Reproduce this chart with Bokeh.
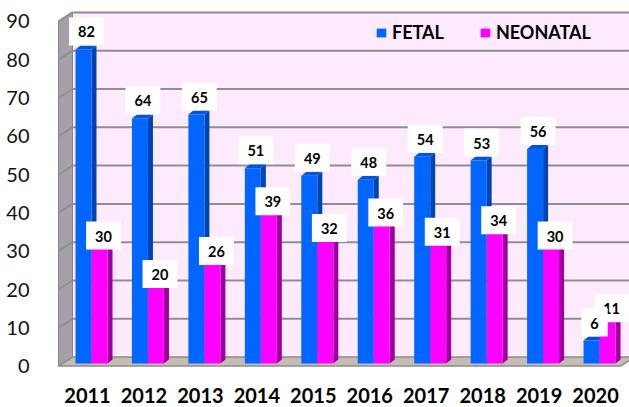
from bokeh.plotting import figure
from bokeh.models import Range1d, FixedTicker, Legend, LegendItem
from bokeh.core.properties import value
from bokeh.embed import file_html
from bokeh.resources import INLINE

# ---- data ----
years = [2011, 2012, 2013, 2014, 2015, 2016, 2017, 2018, 2019, 2020]
fetal = [82, 64, 65, 51, 49, 48, 54, 53, 56, 6]
neonatal = [30, 20, 26, 39, 32, 36, 31, 34, 30, 11]
series_names = ["FETAL", "NEONATAL"]
y_ticks = [0, 10, 20, 30, 40, 50, 60, 70, 80, 90]

# ---- style / geometry constants ----
PX_X = 56.45          # pixels per category
PX_Y = 3.83           # pixels per value unit
LEFT, TOP = 56, 2
FRAME_W, FRAME_H = 573, 368
X0 = 2011 + (LEFT - 87) / PX_X
Y1 = (365.6 - TOP) / PX_Y
Y0 = Y1 - FRAME_H / PX_Y
bar_dx, bar_dy = 4 / PX_X, 2.6 / PX_Y       # bar plane shift
back_dx, back_dy = 14 / PX_X, 9 / PX_Y      # back wall shift
dep_dx, dep_dy = 5 / PX_X, 4 / PX_Y         # bar depth
bw = 16 / PX_X
wall_x = years[0] + (58 - 87) / PX_X
floor_x1 = years[0] + (620 - 87) / PX_X
y_top = y_ticks[-1]

BLUE, BLUE_SIDE, BLUE_TOP = "#0066FF", "#0044B0", "#0055DD"
MAG, MAG_SIDE, MAG_TOP = "#FF00FF", "#9E009E", "#DD00DD"
WALL, SIDE_WALL, FLOOR, GRID = "#FDEBFD", "#A8A0A8", "#C6BCB2", "#8F8F8F"

p = figure(frame_width=FRAME_W, frame_height=FRAME_H,
           x_range=Range1d(X0, X0 + FRAME_W / PX_X),
           y_range=Range1d(Y0, Y1),
           output_backend="svg", toolbar_location=None,
           min_border_left=LEFT, min_border_right=0, min_border_top=TOP, min_border_bottom=0)
p.outline_line_color = None
p.xgrid.visible = False
p.ygrid.visible = False

# back wall
p.quad(left=wall_x + back_dx, right=X0 + 20, bottom=back_dy, top=y_top + back_dy,
       fill_color=WALL, line_color=None)
# left side wall
p.patch([wall_x, wall_x, wall_x + back_dx, wall_x + back_dx],
        [0, y_top, y_top + back_dy, back_dy], fill_color=SIDE_WALL,
        line_color="#8A848A", line_width=1)
# gridlines
gt = y_ticks[1:]
p.segment(x0=[wall_x + back_dx] * len(gt), y0=[t + back_dy for t in gt],
          x1=[X0 + 20] * len(gt), y1=[t + back_dy for t in gt],
          line_color=GRID, line_width=2)
p.segment(x0=[wall_x] * len(gt), y0=gt,
          x1=[wall_x + back_dx] * len(gt), y1=[t + back_dy for t in gt],
          line_color=GRID, line_width=2)
# floor
p.patch([wall_x, floor_x1, floor_x1 + back_dx, wall_x + back_dx],
        [0, 0, back_dy, back_dy], fill_color=FLOOR, line_color="#8C8C8C", line_width=1.5)


def draw_series(vals, left_shift, front, side, top):
    L = [y + bar_dx + left_shift for y in years]
    R = [l + bw for l in L]
    B = bar_dy
    T = [v + bar_dy for v in vals]
    p.patches([[r, r + dep_dx, r + dep_dx, r] for r in R],
              [[B, B + dep_dy, t + dep_dy, t] for t in T],
              fill_color=side, line_color=None)
    p.patches([[l, r, r + dep_dx, l + dep_dx] for l, r in zip(L, R)],
              [[t, t, t + dep_dy, t + dep_dy] for t in T],
              fill_color=top, line_color=None)
    return p.quad(left=L, right=R, bottom=B, top=T, fill_color=front, line_color=None)


r_f = draw_series(fetal, -bw, BLUE, BLUE_SIDE, BLUE_TOP)
r_n = draw_series(neonatal, 0, MAG, MAG_SIDE, MAG_TOP)

# data labels (neonatal first, fetal on top)
pad = dict(left=9, right=9, top=9, bottom=8)
for vals, shift, xoff, yoff in ((neonatal, bw / 2, 4, -13), (fetal, -bw / 2, 3, -18)):
    p.text(x=[y + bar_dx + shift for y in years], y=[v + bar_dy for v in vals],
           text=[str(v) for v in vals], x_offset=xoff, y_offset=yoff,
           text_align="center", text_baseline="middle",
           text_font=value("Lato"), text_font_style="bold", text_font_size="14.5px",
           text_color="black", background_fill_color="white", padding=pad)

# axes
p.yaxis.ticker = FixedTicker(ticks=y_ticks)
p.yaxis.axis_line_color = None
p.yaxis.major_tick_line_color = None
p.yaxis.minor_tick_line_color = None
p.yaxis.major_label_standoff = 21
p.yaxis.major_label_text_font = "Lato"
p.yaxis.major_label_text_font_size = "20px"
p.yaxis.major_label_text_color = "#111111"

p.xaxis.ticker = FixedTicker(ticks=years)
p.xaxis.major_label_overrides = {y: str(y) for y in years}
p.xaxis.axis_line_color = None
p.xaxis.major_tick_line_color = None
p.xaxis.minor_tick_line_color = None
p.xaxis.major_label_standoff = 11
p.xaxis.major_label_text_font = "Lato"
p.xaxis.major_label_text_font_style = "bold"
p.xaxis.major_label_text_font_size = "20px"
p.xaxis.major_label_text_color = "black"

legend = Legend(items=[LegendItem(label=series_names[0], renderers=[r_f]),
                       LegendItem(label=series_names[1], renderers=[r_n])],
                orientation="horizontal", location=(319, 327),
                glyph_width=12, glyph_height=11, label_standoff=5, spacing=35,
                padding=0, margin=0, background_fill_alpha=0, border_line_color=None,
                label_text_font="Lato", label_text_font_style="bold",
                label_text_font_size="18px", label_text_color="black")
p.add_layout(legend)

open("out.html", "w").write(file_html(p, INLINE))
